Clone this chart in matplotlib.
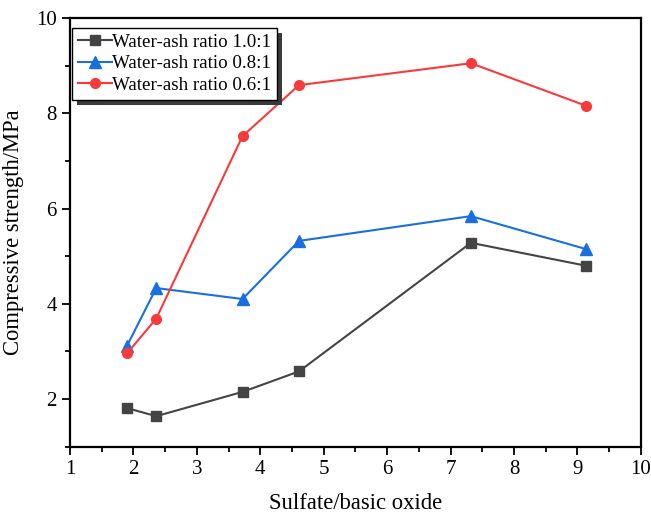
import matplotlib
matplotlib.use('Agg')
import matplotlib.pyplot as plt
from matplotlib.ticker import MultipleLocator
from matplotlib.patches import Rectangle

plt.rcParams['font.family'] = ['Liberation Serif', 'DejaVu Serif']

ratio = [1.9, 2.36, 3.72, 4.61, 7.32, 9.13]
fuerza_10 = [1.81, 1.64, 2.15, 2.58, 5.28, 4.80]
fuerza_08 = [3.12, 4.33, 4.10, 5.32, 5.84, 5.15]
fuerza_06 = [2.96, 3.69, 7.52, 8.59, 9.05, 8.16]
etiquetas = ['Water-ash ratio 1.0:1', 'Water-ash ratio 0.8:1', 'Water-ash ratio 0.6:1']

fig = plt.figure(figsize=(6.51, 5.14), dpi=100)
ax = fig.add_axes([0.1075, 0.131, 0.877, 0.834])

ax.plot(ratio, fuerza_10, '-s', color='#444444', lw=1.5, ms=7, label=etiquetas[0])
ax.plot(ratio, fuerza_08, '-^', color='#1a6fe0', lw=1.5, ms=8, label=etiquetas[1])
ax.plot(ratio, fuerza_06, '-o', color='#f93a3a', lw=1.5, ms=7, label=etiquetas[2])

ax.set_xlim(1, 10)
ax.set_ylim(1, 10)
ax.xaxis.set_major_locator(MultipleLocator(1))
ax.xaxis.set_minor_locator(MultipleLocator(0.5))
ax.yaxis.set_major_locator(MultipleLocator(2))
ax.yaxis.set_minor_locator(MultipleLocator(1))
ax.tick_params(which='both', direction='out', top=False, right=False, labelsize=15, width=1.3)
ax.tick_params(which='major', length=6)
ax.tick_params(which='minor', length=3.5)
for s in ax.spines.values():
    s.set_linewidth(1.6)

ax.set_xlabel('Sulfate/basic oxide', fontsize=16.3, labelpad=10)
ax.set_ylabel('Compressive strength/MPa', fontsize=16.3, labelpad=9)

leg = ax.legend(loc='upper left', bbox_to_anchor=(0.004, 0.977), borderaxespad=0,
                fontsize=13.7, frameon=True, fancybox=False, framealpha=1,
                edgecolor='black', handlelength=1.8, handletextpad=0.0, borderpad=0.3,
                labelspacing=0.22)
leg.get_frame().set_linewidth(1.0)
leg.set_zorder(5)

# sombra del cuadro de leyenda
fig.canvas.draw()
bb = leg.get_window_extent()
sombra = Rectangle((bb.x0 + 5, bb.y0 - 5), bb.width, bb.height, transform=None,
                   facecolor='#3a3a3a', edgecolor='none', zorder=4)
ax.add_artist(sombra)

plt.savefig('out.png', dpi=100)
